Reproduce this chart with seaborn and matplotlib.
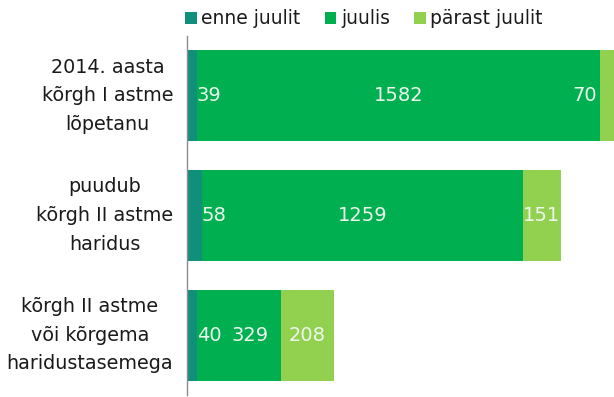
import matplotlib
matplotlib.use("Agg")
import matplotlib.pyplot as plt
from matplotlib.patches import Patch
from matplotlib.ticker import FixedLocator
import matplotlib.transforms as mtransforms
import seaborn as sns
import numpy as np
import pandas as pd

# Data
categories = [
    "2014. aasta\nkõrgh I astme\nlõpetanu",
    "puudub\nkõrgh II astme\nharidus",
    "kõrgh II astme\nvõi kõrgema\nharidustasemega",
]
series_names = ["enne juulit", "juulis", "pärast juulit"]
enne_juulit = [39, 58, 40]
juulis = [1582, 1259, 329]
parast_juulit = [70, 151, 208]

colors = ["#10907a", "#00b050", "#92d050"]

sns.set_theme(style="white")
plt.rcParams["font.family"] = ["DejaVu Sans"]

values = np.array([enne_juulit, juulis, parast_juulit], dtype=float)
cum = np.cumsum(values, axis=0)
starts = cum - values

fig = plt.figure(figsize=(6.14, 3.97), dpi=100)
ax = fig.add_axes([187 / 614, 2 / 397, 427 / 614, 359 / 397])

# stacked bars: draw cumulative totals from the outermost segment inward
for i in range(len(series_names) - 1, -1, -1):
    df = pd.DataFrame({"kategooria": categories, "väärtus": cum[i]})
    sns.barplot(data=df, x="väärtus", y="kategooria", orient="h",
                color=colors[i], saturation=1, width=0.76, ax=ax,
                edgecolor="none", linewidth=0)

ax.set_xlim(0, 1675)
ax.set_ylim(2.5, -0.5)
ax.set_xlabel("")
ax.set_ylabel("")
ax.set_xticks([])

for s in ["top", "right", "bottom"]:
    ax.spines[s].set_visible(False)
ax.spines["left"].set_color("#8c8c8c")
ax.spines["left"].set_linewidth(1.0)

ax.tick_params(axis="y", which="major", length=0, pad=10, labelsize=13.8,
               labelcolor="#1a1a1a")
ax.yaxis.set_minor_locator(FixedLocator([-0.5, 0.5, 1.5, 2.5]))
ax.tick_params(axis="y", which="minor", length=3, color="#8c8c8c", width=1.0,
               direction="out")
# category labels sit slightly above the bar centre
lift = mtransforms.ScaledTranslation(0, 5 / 72, fig.dpi_scale_trans)
for lab in ax.get_yticklabels():
    lab.set_multialignment("center")
    lab.set_linespacing(1.65)
    lab.set_transform(lab.get_transform() + lift)

label_color = "#eef7ee"
fs = 14
texts = []
for j in range(len(categories)):
    # first segment: label just after the segment
    t0 = ax.annotate(f"{int(values[0, j])}", xy=(cum[0, j], j), xytext=(0, 0),
                     textcoords="offset points", ha="left", va="center",
                     color=label_color, fontsize=fs)
    # middle segment: centered
    t1 = ax.annotate(f"{int(values[1, j])}", xy=(starts[1, j] + values[1, j] / 2, j),
                     ha="center", va="center", color=label_color, fontsize=fs)
    # last segment: centered
    t2 = ax.annotate(f"{int(values[2, j])}", xy=(starts[2, j] + values[2, j] / 2, j),
                     ha="center", va="center", color=label_color, fontsize=fs)
    texts.append([t0, t1, t2])

fig.canvas.draw()
renderer = fig.canvas.get_renderer()
ax_bbox = ax.get_window_extent(renderer)
inv = ax.transData.inverted()
gap = 10
for j in range(len(categories)):
    t0, t1, t2 = texts[j]
    b0 = t0.get_window_extent(renderer)
    b1 = t1.get_window_extent(renderer)
    # avoid overlap between first and middle labels
    if b1.x0 < b0.x1 + gap:
        shift = b0.x1 + gap - b1.x0
        x_disp = ax.transData.transform((t1.xy[0], j))[0] + shift
        new_x = inv.transform((x_disp, 0))[0]
        t1.xy = (new_x, j)
        t1.xyann = (new_x, j)
    b2 = t2.get_window_extent(renderer)
    # keep the last label inside the plot area
    if b2.x1 > ax_bbox.x1:
        t2.remove()
        ax.annotate(f"{int(values[2, j])}", xy=(starts[2, j], j), xytext=(-2, 0),
                    textcoords="offset points", ha="right", va="center",
                    color=label_color, fontsize=fs)

handles = [Patch(facecolor=c, edgecolor="none") for c in colors]
fig.legend(handles, series_names, loc="center", bbox_to_anchor=(0.593, 0.953),
           ncol=3, frameon=False, fontsize=13.5, handlelength=0.6, handleheight=0.6,
           handletextpad=0.25, columnspacing=1.3, labelcolor="#1a1a1a")

fig.savefig("out.png", dpi=100)
